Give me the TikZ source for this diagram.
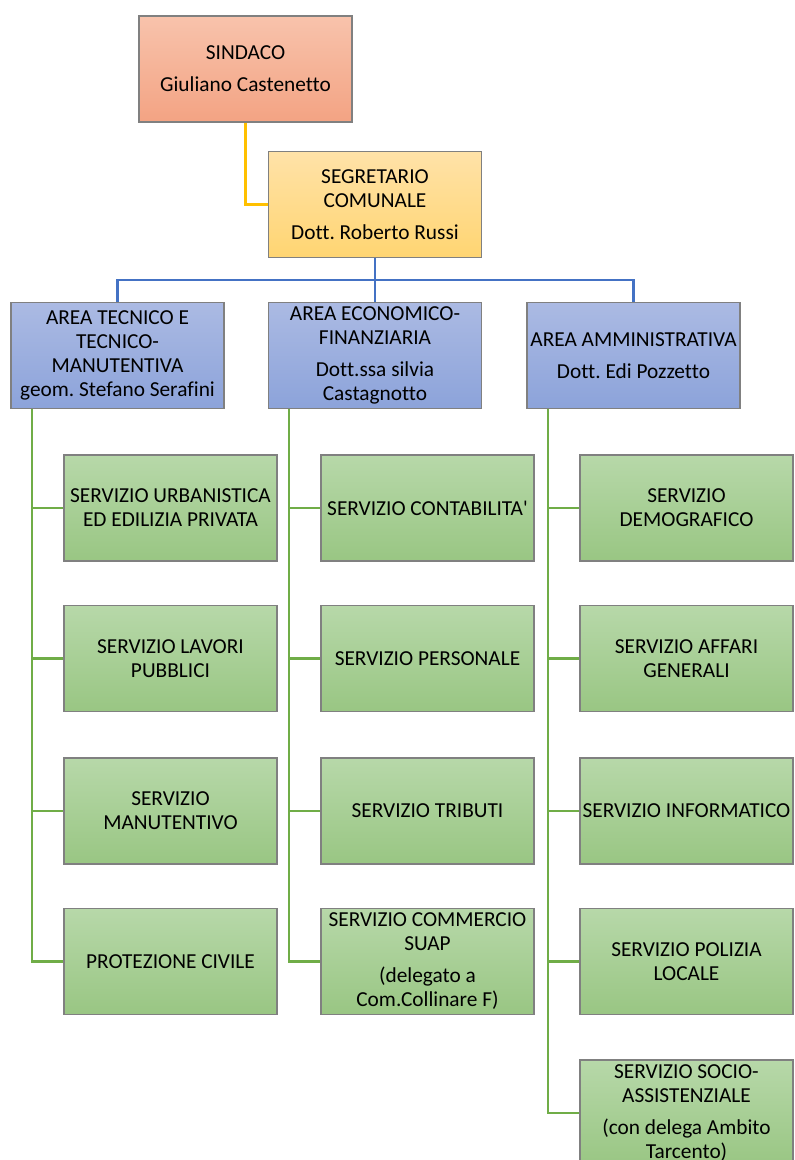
\documentclass[tikz,border=0pt]{standalone}
\usepackage{fontspec}
\setmainfont{Carlito}[Ligatures={NoCommon}]
\usetikzlibrary{calc}
\definecolor{salT}{HTML}{F8C3AC}
\definecolor{salB}{HTML}{F3A383}
\definecolor{ylwT}{HTML}{FFE2A8}
\definecolor{ylwB}{HTML}{FFD572}
\definecolor{bluT}{HTML}{ABBAE3}
\definecolor{bluB}{HTML}{8CA3DA}
\definecolor{grnT}{HTML}{B7D8A9}
\definecolor{grnB}{HTML}{99C683}
\definecolor{lnY}{HTML}{FFC000}
\definecolor{lnB}{HTML}{4472C4}
\definecolor{lnG}{HTML}{70AD47}
\definecolor{brd}{HTML}{808080}
\frenchspacing
\begin{document}
\begin{tikzpicture}[x=0.75pt,y=-0.75pt,
  orgbox/.style={rectangle,draw=brd,line width=0.9pt,minimum width=159.75pt,minimum height=79.5pt,
    inner sep=0pt,align=center,font=\fontsize{16}{18}\selectfont},
  salbox/.style={orgbox,top color=salT,bottom color=salB},
  ylwbox/.style={orgbox,top color=ylwT,bottom color=ylwB},
  blubox/.style={orgbox,top color=bluT,bottom color=bluB},
  grnbox/.style={orgbox,top color=grnT,bottom color=grnB},
  ylwline/.style={draw=lnY,line width=1.6pt},
  bluline/.style={draw=lnB,line width=1.6pt},
  grnline/.style={draw=lnG,line width=1.6pt}]
\useasboundingbox (0,0) rectangle (795,1160);
\clip (0,0) rectangle (795,1160);
\def\pg{\\[6pt]}
\coordinate (bus) at (375,280);
% nodes
\node[salbox] (sind) at (245.5,69) {SINDACO\pg Giuliano Castenetto};
\node[ylwbox] (segr) at (375,204.5) {SEGRETARIO\\COMUNALE\pg Dott. Roberto Russi};
\node[blubox] (a1) at (117.5,355.5) {AREA TECNICO E\\TECNICO-\\MANUTENTIVA\\geom. Stefano Serafini};
\node[blubox] (a2) at (375,355.5) {AREA ECONOMICO-\\FINANZIARIA\pg Dott.ssa silvia\\Castagnotto};
\node[blubox] (a3) at (633.5,355.5) {AREA AMMINISTRATIVA\pg Dott. Edi Pozzetto};
% column 1
\node[grnbox] (c11) at (170.5,508) {SERVIZIO URBANISTICA\\ED EDILIZIA PRIVATA};
\node[grnbox] (c12) at (170.5,658.5) {SERVIZIO LAVORI\\PUBBLICI};
\node[grnbox] (c13) at (170.5,811) {SERVIZIO\\MANUTENTIVO};
\node[grnbox] (c14) at (170.5,961.5) {PROTEZIONE CIVILE};
% column 2
\node[grnbox] (c21) at (427.5,508) {SERVIZIO CONTABILITA\textquotesingle};
\node[grnbox] (c22) at (427.5,658.5) {SERVIZIO PERSONALE};
\node[grnbox] (c23) at (427.5,811) {SERVIZIO TRIBUTI};
\node[grnbox] (c24) at (427.5,961.5) {SERVIZIO COMMERCIO\\SUAP\pg (delegato a\\Com.Collinare F)};
% column 3
\node[grnbox] (c31) at (686.5,508) {SERVIZIO\\DEMOGRAFICO};
\node[grnbox] (c32) at (686.5,658.5) {SERVIZIO AFFARI\\GENERALI};
\node[grnbox] (c33) at (686.5,811) {SERVIZIO INFORMATICO};
\node[grnbox] (c34) at (686.5,961.5) {SERVIZIO POLIZIA\\LOCALE};
\node[grnbox] (c35) at (686.5,1113) {SERVIZIO SOCIO-\\ASSISTENZIALE\pg (con delega Ambito\\Tarcento)};
% connectors
\draw[ylwline] (sind.south) |- (segr.west);
\draw[bluline] (segr.south) -- (segr.south |- bus) -| (a1.north);
\draw[bluline] (segr.south |- bus) -| (a3.north);
\draw[bluline] (a2.north) -- (a2.north |- bus);
\coordinate (t1) at ($(a1.south west)+(22,0)$);
\coordinate (t2) at ($(a2.south west)+(21.5,0)$);
\coordinate (t3) at ($(a3.south west)+(21.5,0)$);
\foreach \c in {c11,c12,c13,c14} \draw[grnline] (t1) |- (\c.west);
\foreach \c in {c21,c22,c23,c24} \draw[grnline] (t2) |- (\c.west);
\foreach \c in {c31,c32,c33,c34,c35} \draw[grnline] (t3) |- (\c.west);
\end{tikzpicture}
\end{document}
